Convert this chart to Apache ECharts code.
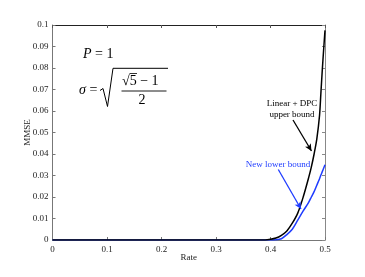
<!DOCTYPE html>
<html><head><meta charset="utf-8">
<script src="https://cdn.jsdelivr.net/npm/echarts@6/dist/echarts.min.js"></script>
<style>html,body{margin:0;padding:0;background:#fff}#c{width:365px;height:277px}</style>
</head><body><div id="c"></div>
<script>
var rate = [0,0.1,0.2,0.3,0.38,0.39,0.40,0.41,0.42,0.43,0.44,0.45,0.46,0.47,0.475,0.48,0.485,0.49,0.4925,0.495,0.4975,0.5];
var upperBound = [0,0,0,0,0,0,0.0003,0.0009,0.0022,0.0042,0.0078,0.0125,0.020,0.029,0.034,0.040,0.047,0.058,0.0685,0.079,0.0885,0.0975];
var lowerBound = [0,0,0,0,0,0,0,0.0001,0.0006,0.0025,0.005,0.0092,0.0135,0.0175,0.02,0.0225,0.0255,0.0285,0.0302,0.0318,0.0334,0.035];
var xTicks = [0,0.1,0.2,0.3,0.4,0.5];
var yTicks = [0,0.01,0.02,0.03,0.04,0.05,0.06,0.07,0.08,0.09,0.1];
var blackArrow = [[0.4413,0.0558],[0.4752,0.0414]];
var blueArrow = [[0.4143,0.0328],[0.456,0.0144]];

var F = "'Liberation Serif','DejaVu Serif',serif";
var BLUE = '#1f3cff';
function pairs(xs, ys){ return xs.map(function(x,i){return [x, ys[i]];}); }
function fmt(v){ return String(+(+v).toFixed(2)); }

var chart = echarts.init(document.getElementById('c'), null, {renderer:'canvas'});
var axisLbl = {fontFamily:F, fontSize:9, color:'#222'};
chart.setOption({
  animation:false,
  grid:{left:52.5,right:40,top:25,bottom:37},
  xAxis:[{type:'value',min:0,max:0.5,interval:0.1,position:'bottom',
    axisLine:{lineStyle:{color:'#777',width:1}},
    axisTick:{inside:true,length:3,lineStyle:{color:'#777'}},
    axisLabel:Object.assign({margin:5,formatter:fmt},axisLbl),
    splitLine:{show:false},
    name:'Rate',nameLocation:'middle',nameGap:13,nameMoveOverlap:false,nameTextStyle:{fontFamily:F,fontSize:9,color:'#222'}},
   {type:'value',min:0,max:0.5,interval:0.1,position:'top',
    axisLine:{show:true,onZero:false,lineStyle:{color:'#222',width:1}},
    axisTick:{show:true,inside:true,length:3,lineStyle:{color:'#555'}},
    axisLabel:{show:false},splitLine:{show:false}}],
  yAxis:[{type:'value',min:0,max:0.1,interval:0.01,position:'left',
    axisLine:{lineStyle:{color:'#777',width:1}},
    axisTick:{inside:true,length:3,lineStyle:{color:'#777'}},
    axisLabel:Object.assign({margin:4,formatter:fmt},axisLbl),
    splitLine:{show:false},
    name:'MMSE',nameLocation:'middle',nameGap:20,nameMoveOverlap:false,nameTextStyle:{fontFamily:F,fontSize:9,color:'#222'}},
   {type:'value',min:0,max:0.1,interval:0.01,position:'right',
    axisLine:{show:true,onZero:false,lineStyle:{color:'#888',width:1}},
    axisTick:{show:true,inside:true,length:3,lineStyle:{color:'#888'}},
    axisLabel:{show:false},splitLine:{show:false}}],
  series:[
    {type:'line',xAxisIndex:1,yAxisIndex:1,data:[],showSymbol:false,silent:true},
    {type:'line',data:pairs(rate,lowerBound),showSymbol:false,smooth:0.3,
     lineStyle:{color:BLUE,width:1.5},z:2,
     markLine:{silent:true,symbol:['none','arrow'],symbolSize:[5,7],animation:false,
       lineStyle:{color:BLUE,width:1.3,type:'solid'},label:{show:false},
       data:[[{coord:blueArrow[0]},{coord:blueArrow[1]}]]}},
    {type:'line',data:pairs(rate,upperBound),showSymbol:false,smooth:0.3,
     lineStyle:{color:'#000',width:1.5},z:3,
     markLine:{silent:true,symbol:['none','arrow'],symbolSize:[5,7],animation:false,
       lineStyle:{color:'#000',width:1.3,type:'solid'},label:{show:false},
       data:[[{coord:blackArrow[0]},{coord:blackArrow[1]}]]}}
  ],
  graphic:[
    {type:'text',x:83,y:54.5,style:{text:'{i|P} = 1',font:'14px '+F,fill:'#000',verticalAlign:'middle',
      rich:{i:{fontStyle:'italic',fontFamily:F,fontSize:14}}}},
    {type:'text',x:79,y:90,style:{text:'{i|σ} =',font:'14px '+F,fill:'#000',verticalAlign:'middle',
      rich:{i:{fontStyle:'italic',fontFamily:F,fontSize:14}}}},
    {type:'polyline',shape:{points:[[100,90.5],[103,88.5],[107.5,106.5],[113,68.3],[168,68.3]]},style:{stroke:'#000',lineWidth:1,fill:null}},
    {type:'text',x:122,y:81.5,style:{text:'√5 − 1',font:'14px '+F,fill:'#000',verticalAlign:'middle'}},
    {type:'line',shape:{x1:129.5,y1:73.5,x2:137,y2:73.5},style:{stroke:'#000',lineWidth:0.8}},
    {type:'line',shape:{x1:121.5,y1:91,x2:166.5,y2:91},style:{stroke:'#000',lineWidth:0.9}},
    {type:'text',x:142,y:100,style:{text:'2',font:'14px '+F,fill:'#000',align:'center',verticalAlign:'middle'}},
    {type:'text',x:292,y:109,style:{text:'Linear + DPC\nupper bound',font:'9px '+F,fill:'#000',align:'center',verticalAlign:'middle',lineHeight:11.5}},
    {type:'text',x:278,y:164.5,style:{text:'New lower bound',font:'9px '+F,fill:BLUE,align:'center',verticalAlign:'middle'}}
  ]
});
</script></body></html>
